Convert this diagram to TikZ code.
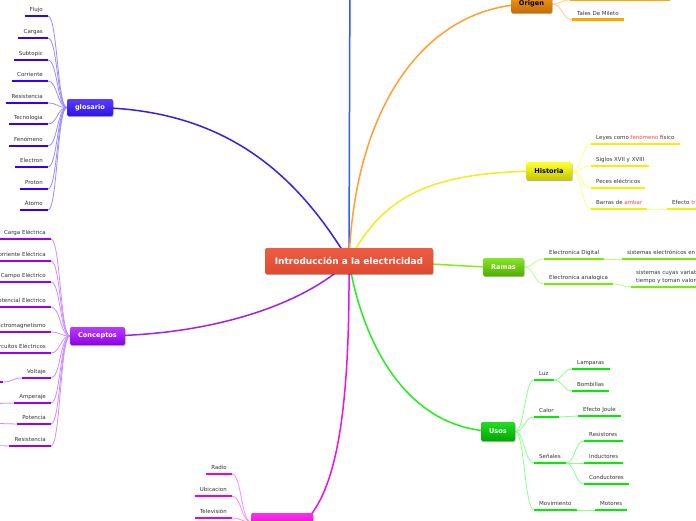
\documentclass[tikz,border=0pt]{standalone}
\usepackage{fontspec}
\setmainfont{DejaVu Sans}
\usetikzlibrary{shadows,calc}
\definecolor{cen1}{HTML}{EE5C44}\definecolor{cen2}{HTML}{DE4A30}
\definecolor{glo1}{HTML}{5B3DFF}\definecolor{glo2}{HTML}{2D12E6}
\definecolor{uGlo}{HTML}{3300FF}\definecolor{tGlo}{HTML}{9A8CFF}\definecolor{kGlo}{HTML}{3A1EE6}
\definecolor{con1}{HTML}{B63CFF}\definecolor{con2}{HTML}{8F00E6}
\definecolor{uCon}{HTML}{9A00F0}\definecolor{tCon}{HTML}{D08CFF}\definecolor{kCon}{HTML}{A020F0}
\definecolor{mag1}{HTML}{FF2EE8}\definecolor{mag2}{HTML}{D900C8}
\definecolor{uMag}{HTML}{EE00DD}\definecolor{tMag}{HTML}{FF8CF0}\definecolor{kMag}{HTML}{F010E0}
\definecolor{ori1}{HTML}{F29A1C}\definecolor{ori2}{HTML}{C46C00}
\definecolor{uOri}{HTML}{FFA600}\definecolor{tOri}{HTML}{FFCF80}\definecolor{kOri}{HTML}{FFA030}
\definecolor{his1}{HTML}{FFFF30}\definecolor{his2}{HTML}{C8C800}
\definecolor{uHis}{HTML}{F2F200}\definecolor{tHis}{HTML}{FFFF80}\definecolor{kHis}{HTML}{EEEE22}
\definecolor{ram1}{HTML}{88E628}\definecolor{ram2}{HTML}{4FAE00}
\definecolor{uRam}{HTML}{77EE00}\definecolor{tRam}{HTML}{BBFF80}\definecolor{kRam}{HTML}{88EE11}
\definecolor{uso1}{HTML}{22DD22}\definecolor{uso2}{HTML}{00A800}
\definecolor{uUso}{HTML}{00EE00}\definecolor{tUso}{HTML}{88FF88}\definecolor{kUso}{HTML}{22EE22}
\definecolor{kBlu}{HTML}{2A5CFF}
\definecolor{txt}{HTML}{333333}\definecolor{hot}{HTML}{FF4444}
\pgfdeclarelayer{bg}
\pgfsetlayers{bg,main}
\tikzset{
  box/.style={rounded corners=2pt, minimum height=18pt, inner sep=0pt,
    font=\fontsize{6.6}{8}\selectfont\bfseries,
    drop shadow={shadow xshift=0.6pt, shadow yshift=-1.2pt, opacity=0.3, fill=black}},
  leaf/.style={inner xsep=5pt, inner ysep=2.8pt, text height=4.2pt, text depth=1.2pt,
    font=\fontsize{5.5}{6.5}\selectfont, text=txt},
  sc/.style={to path={let \p1=(\tikztostart), \p2=(\tikztotarget) in
    .. controls ({(\x1+\x2)/2},\y1) and ({(\x1+\x2)/2},\y2) .. (\tikztotarget)}},
  twig/.style={line width=0.8pt, sc},
  trunk/.style={line width=1.5pt},
  uline/.style={line width=2.6pt},
}
\newcommand\lfnode[5]{\node[leaf,anchor=#2] (#1) at (#3) {#5};
  \draw[uline,#4] (#1.south west) -- (#1.south east);}
\begin{document}
\begin{tikzpicture}[x=1pt,y=-1pt]
\useasboundingbox (0,0) rectangle (696,520);
% main nodes
\node[box, minimum width=168pt, minimum height=26pt, font=\fontsize{9}{11}\selectfont\bfseries,
  text=white, top color=cen1, bottom color=cen2] (c) at (349,261) {Introducción a la electricidad};
\node[box, minimum width=46pt, minimum height=17pt, text=white, top color=glo1, bottom color=glo2] (glo) at (90,107.5) {glosario};
\node[box, minimum width=55pt, text=white, top color=con1, bottom color=con2] (con) at (97.5,336) {Conceptos};
\node[box, minimum width=62pt, top color=mag1, bottom color=mag2] (mag) at (282,522) {};
\node[box, minimum width=41pt, text=black, top color=ori1, bottom color=ori2] (ori) at (531.5,4) {Origen};
\node[box, minimum width=46pt, text=black, top color=his1, bottom color=his2] (his) at (549,171) {Historia};
\node[box, minimum width=41pt, text=white, top color=ram1, bottom color=ram2] (ram) at (503.5,267) {Ramas};
\node[box, minimum width=34pt, minimum height=19pt, text=white, top color=uso1, bottom color=uso2] (uso) at (498,431.5) {Usos};
\coordinate (top) at (350,-40);
% glosario leaves
\lfnode{g1}{south east}{48,16}{uGlo}{Flujo}
\lfnode{g2}{south east}{48,38}{uGlo}{Cargas}
\lfnode{g3}{south east}{48,60}{uGlo}{Subtopic}
\lfnode{g4}{south east}{48,81}{uGlo}{Corriente}
\lfnode{g5}{south east}{48,103}{uGlo}{Resistencia}
\lfnode{g6}{south east}{48,124}{uGlo}{Tecnologia}
\lfnode{g7}{south east}{48,146}{uGlo}{Fenómeno}
\lfnode{g8}{south east}{48,167}{uGlo}{Electron}
\lfnode{g9}{south east}{48,189}{uGlo}{Proton}
\lfnode{g10}{south east}{48,210}{uGlo}{Átomo}
% conceptos leaves
\lfnode{k1}{south east}{51,239}{uCon}{Carga Eléctrica}
\lfnode{k2}{south east}{51,261}{uCon}{Corriente Eléctrica}
\lfnode{k3}{south east}{51,282}{uCon}{Campo Eléctrico}
\lfnode{k4}{south east}{51,307}{uCon}{Potencial Electrico}
\lfnode{k5}{south east}{51,332}{uCon}{Electromagnetismo}
\lfnode{k6}{south east}{51,353}{uCon}{Circuitos Eléctricos}
\lfnode{k7}{south east}{51,378}{uCon}{Voltaje}
\lfnode{k8}{south east}{51,403}{uCon}{Amperaje}
\lfnode{k9}{south east}{51,424}{uCon}{Potencia}
\lfnode{k10}{south east}{51,446}{uCon}{Resistencia}
\coordinate (vx) at (3,382);
\draw[uline,uCon] (-40,382) -- (vx);
\coordinate (ax) at (-20,404);
\coordinate (px) at (-20,423);
\coordinate (rx) at (-20,445);
% magenta leaves
\lfnode{m1}{south east}{232,474}{uMag}{Radio}
\lfnode{m2}{south east}{232,496}{uMag}{Ubicacion}
\lfnode{m3}{south east}{232,518}{uMag}{Televisión}
% origen leaves
\lfnode{o1}{south west}{572,19.5}{uOri}{Tales De Mileto}
\coordinate (otop) at (570,0);
\draw[uline,uOri] (otop) -- (670,0);
% historia leaves
\lfnode{h1}{south west}{591,144}{uHis}{Leyes como \textcolor{hot}{fenómeno} físico}
\lfnode{h2}{south west}{591,166}{uHis}{Siglos XVII y XVIII}
\lfnode{h3}{south west}{591,188}{uHis}{Peces eléctricos}
\lfnode{h4}{south west}{591,209}{uHis}{Barras de \textcolor{hot}{ambar}}
\lfnode{h5}{south west}{667,209}{uHis}{Efecto \textcolor{hot}{tribo}}
% ramas leaves
\lfnode{r1}{south west}{544,259}{uRam}{Electronica Digital}
\lfnode{r2}{south west}{544,284}{uRam}{Electronica analogica}
\lfnode{r3}{south west}{622,259}{uRam}{sistemas electrónicos en}
\node[inner xsep=5pt, inner ysep=2.8pt, font=\fontsize{5.5}{8}\selectfont, text=txt,
  text width=90pt, align=left, anchor=south west] (r4) at (631,287)
  {sistemas cuyas variables\\tiempo y toman valores};
\draw[uline,uRam] (r4.south west) -- (r4.south east);
% usos leaves
\lfnode{u1}{south west}{534,380}{uUso}{Luz}
\lfnode{u2}{south west}{572,369}{uUso}{Lamparas}
\lfnode{u3}{south west}{572,391}{uUso}{Bombillas}
\lfnode{u4}{south west}{534,417}{uUso}{Calor}
\lfnode{u5}{south west}{578,416}{uUso}{Efecto Joule}
\lfnode{u6}{south west}{534,463}{uUso}{Señales}
\lfnode{u7}{south west}{584,441}{uUso}{Resistores}
\lfnode{u8}{south west}{584,463}{uUso}{Inductores}
\lfnode{u9}{south west}{584,484}{uUso}{Conductores}
\lfnode{u10}{south west}{534,510}{uUso}{Movimiento}
\lfnode{u11}{south west}{595,510}{uUso}{Motores}
% connectors
\begin{pgfonlayer}{bg}
\fill[white] (0,0) rectangle (696,520);
\draw[trunk,kBlu] (c.center) -- (top);
\draw[trunk,kGlo] (c.center) .. controls (300,180) and (230,107.5) .. (glo.center);
\draw[trunk,kCon] (c.center) .. controls (310,300) and (220,336) .. (con.center);
\draw[trunk,kMag] (c.center) .. controls (350,420) and (335,490) .. ([xshift=23pt]mag.center);
\draw[trunk,kOri] (c.center) .. controls (355,100) and (430,4) .. (ori.center);
\draw[trunk,kHis] (c.center) .. controls (385,190) and (440,171) .. (his.center);
\draw[trunk,kRam] (c.center) .. controls (440,263) and (460,267) .. (ram.center);
\draw[trunk,kUso] (c.center) .. controls (360,330) and (400,431.5) .. (uso.center);
\foreach \q in {g1,g2,g3,g4,g5,g6,g7,g8,g9,g10} \draw[twig,tGlo] (glo.west) to (\q.south east);
\foreach \q in {k1,k2,k3,k4,k5,k6,k7,k8,k9,k10} \draw[twig,tCon] (con.west) to (\q.south east);
\draw[twig,tCon] (k7.south west) to (vx);
\draw[twig,tCon] (k8.south west) to (ax);
\draw[twig,tCon] (k9.south west) to (px);
\draw[twig,tCon] (k10.south west) to (rx);
\foreach \q in {m1,m2,m3} \draw[twig,tMag] (mag.west) to (\q.south east);
\draw[twig,tOri] (ori.east) to (o1.south west);
\draw[twig,tOri] (ori.east) to (otop);
\foreach \q in {h1,h2,h3,h4} \draw[twig,tHis] (his.east) to (\q.south west);
\draw[twig,tHis] (h4.south east) to (h5.south west);
\foreach \q in {r1,r2} \draw[twig,tRam] (ram.east) to (\q.south west);
\draw[twig,tRam] (r1.south east) to (r3.south west);
\draw[twig,tRam] (r2.south east) to (r4.south west);
\foreach \q in {u1,u4,u6,u10} \draw[twig,tUso] (uso.east) to (\q.south west);
\foreach \q in {u2,u3} \draw[twig,tUso] (u1.south east) to (\q.south west);
\draw[twig,tUso] (u4.south east) to (u5.south west);
\foreach \q in {u7,u8,u9} \draw[twig,tUso] (u6.south east) to (\q.south west);
\draw[twig,tUso] (u10.south east) to (u11.south west);
\end{pgfonlayer}
\end{tikzpicture}
\end{document}
